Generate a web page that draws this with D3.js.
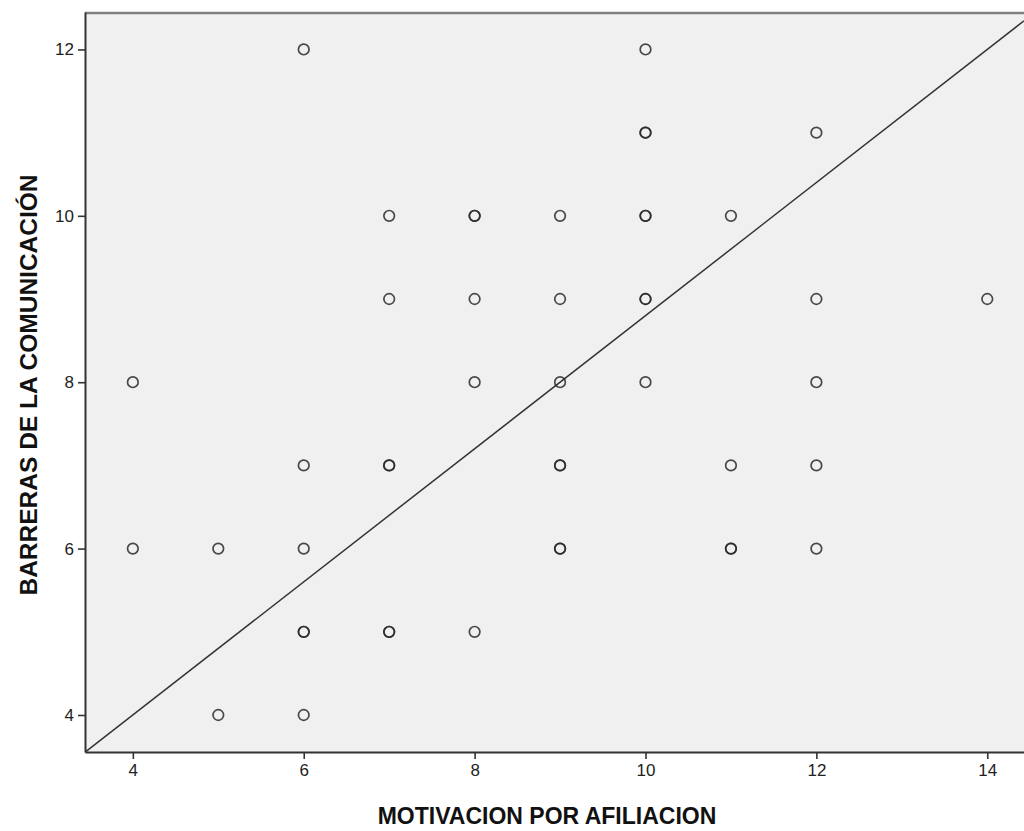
<!DOCTYPE html>
<html>
<head>
<meta charset="utf-8">
<script src="https://cdn.jsdelivr.net/npm/d3@7"></script>
<style>
  body { margin: 0; background: #fff; }
  svg { display: block; font-family: "Liberation Sans", Arial, sans-serif; }
</style>
</head>
<body>
<svg id="chart" width="1024" height="831"></svg>
<script>
// observed cases (repeated pairs are overlapping cases)
var motivacion = [4, 4, 5, 5, 6, 6, 6, 6, 6, 6, 7, 7, 7, 7, 7, 7, 8, 8, 8, 8, 8,
  9, 9, 9, 9, 9, 9, 9, 10, 10, 10, 10, 10, 10, 10, 10, 11, 11, 11, 11, 12, 12, 12, 12, 12, 14];
var barreras = [8, 6, 6, 4, 12, 7, 6, 5, 5, 4, 10, 9, 7, 7, 5, 5, 10, 10, 9, 8, 5,
  10, 9, 8, 7, 7, 6, 6, 12, 11, 11, 10, 10, 9, 9, 8, 10, 7, 6, 6, 11, 9, 8, 7, 6, 9];
var xTicks = [4, 6, 8, 10, 12, 14];
var yTicks = [4, 6, 8, 10, 12];
// reference line  y = a + b*x
var lineA = 0.8;
var lineB = 0.8;

var svg = d3.select('#chart');
var plotL = 85, plotR = 1024, plotT = 12, plotB = 752;

var x = d3.scaleLinear().domain([3.44, 14.43]).range([plotL, plotR]);
var y = d3.scaleLinear().domain([3.555, 12.45]).range([plotB, plotT]);

// plot background
svg.append('rect')
  .attr('x', plotL).attr('y', plotT)
  .attr('width', plotR - plotL).attr('height', plotB - plotT)
  .attr('fill', '#f0f0f0');

svg.append('clipPath').attr('id', 'clip')
  .append('rect')
  .attr('x', plotL).attr('y', plotT)
  .attr('width', plotR - plotL).attr('height', plotB - plotT);

// fit line
var x0 = x.domain()[0], x1 = x.domain()[1];
svg.append('line')
  .attr('clip-path', 'url(#clip)')
  .attr('x1', x(x0)).attr('y1', y(lineA + lineB * x0))
  .attr('x2', x(x1)).attr('y2', y(lineA + lineB * x1))
  .attr('stroke', '#333').attr('stroke-width', 1.5);

// points
var cases = motivacion.map(function(d, i) { return {x: d, y: barreras[i]}; });
svg.append('g').selectAll('circle')
  .data(cases).enter().append('circle')
  .attr('cx', function(d) { return x(d.x); })
  .attr('cy', function(d) { return y(d.y); })
  .attr('r', 5.3)
  .attr('fill', 'none')
  .attr('stroke', '#2a2a2a')
  .attr('stroke-opacity', 0.85)
  .attr('stroke-width', 1.7);

// top border
svg.append('line')
  .attr('x1', plotL).attr('x2', plotR)
  .attr('y1', plotT + 1).attr('y2', plotT + 1)
  .attr('stroke', '#808080').attr('stroke-width', 2.5);

// axes
var xAxis = svg.append('g')
  .attr('transform', 'translate(0,' + plotB + ')')
  .call(d3.axisBottom(x).tickValues(xTicks).tickSizeInner(7).tickSizeOuter(0).tickPadding(5));
var yAxis = svg.append('g')
  .attr('transform', 'translate(' + plotL + ',0)')
  .call(d3.axisLeft(y).tickValues(yTicks).tickSizeInner(7).tickSizeOuter(0).tickPadding(4));

[xAxis, yAxis].forEach(function(ax) {
  ax.select('.domain').attr('stroke', '#333').attr('stroke-width', 2);
  ax.selectAll('.tick line').attr('stroke', '#333').attr('stroke-width', 1.6);
  ax.selectAll('.tick text')
    .attr('fill', '#222')
    .style('font-size', '17px')
    .style('font-family', '"Liberation Sans", Arial, sans-serif');
});

// axis titles
svg.append('text')
  .attr('x', 547).attr('y', 824)
  .attr('text-anchor', 'middle')
  .style('font-size', '23px').style('font-weight', 'bold')
  .attr('fill', '#111')
  .text('MOTIVACION POR AFILIACION');

svg.append('text')
  .attr('transform', 'translate(37,385) rotate(-90)')
  .attr('text-anchor', 'middle')
  .style('font-size', '24.5px').style('font-weight', 'bold')
  .attr('fill', '#111')
  .text('BARRERAS DE LA COMUNICACIÓN');
</script>
</body>
</html>
